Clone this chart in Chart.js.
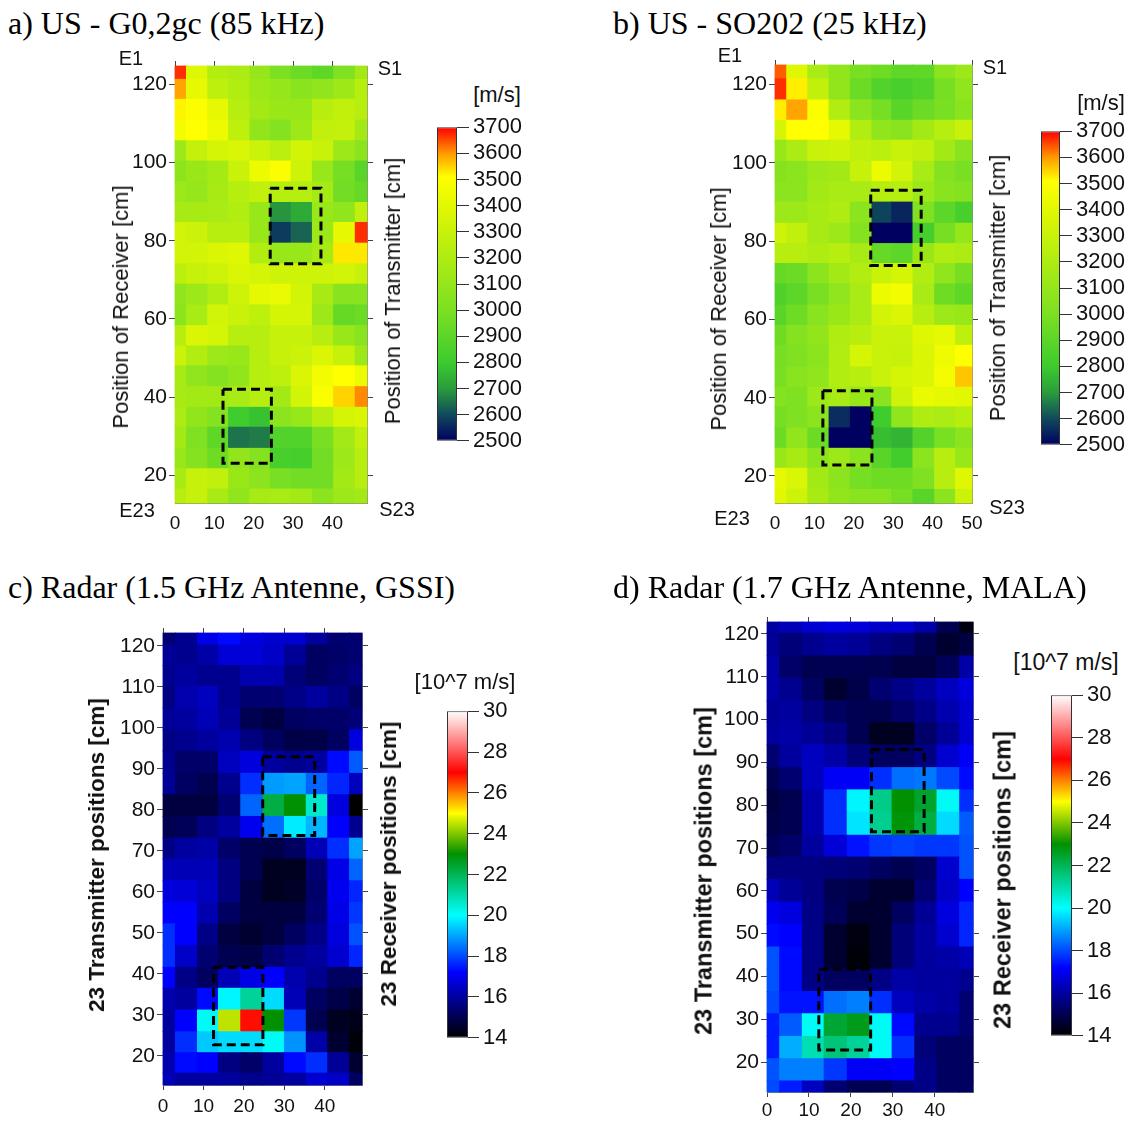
<!DOCTYPE html>
<html>
<head>
<meta charset="utf-8">
<title>US and radar velocity maps</title>
<script src="https://cdn.jsdelivr.net/npm/chart.js@4/dist/chart.umd.js"></script>
<style>
  html, body { margin: 0; padding: 0; background: #fff; }
  #page { position: relative; width: 1125px; height: 1121px; overflow: hidden; }
  #page canvas { position: absolute; }
  .t { position: absolute; white-space: nowrap; color: #111; font-family: "Liberation Sans", Arial, sans-serif; transform: translate(-50%, -50%); }
  .title { font-family: "Liberation Serif", "Times New Roman", serif; font-size: 32px; color: #000; transform: translate(0, -50%); }
</style>
</head>
<body>
<div id="page"></div>
<script>
// cell edges in cm
const xEdgesA = [0, 2.9, 8.3, 13.6, 19, 24.2, 29.5, 34.9, 40.3, 45.8, 48.8];
const yEdgesA = [124.7, 121.3, 116.2, 110.9, 105.6, 100.4, 95.1, 89.8, 84.7, 79.4, 74.1, 68.9, 63.6, 58.3, 53.1, 48, 42.7, 37.4, 32.3, 26.9, 21.7, 16.5, 12.9];
const xEdgesB = [0, 2.95, 8.3, 13.7, 19.1, 24.6, 29.6, 35, 40.5, 45.8, 50];
const yEdgesB = [125, 121.5, 116.1, 110.9, 105.8, 100.4, 95.2, 90, 84.6, 79.4, 74.3, 69.1, 63.7, 58.5, 53.4, 47.9, 42.7, 37.7, 32.3, 27.1, 22, 16.6, 13.1];
const xEdgesC = [0, 3.05, 8.5, 13.7, 19.2, 24.7, 30, 35.4, 40.7, 46.1, 49.2];
const yEdgesC = [123.1, 120.2, 115.2, 110.1, 104.8, 99.5, 94.3, 88.9, 83.7, 78.4, 73.1, 68, 62.7, 57.4, 52.2, 46.9, 41.6, 36.5, 31.2, 25.9, 20.8, 15.8, 12.9];
const xEdgesD = [0, 3, 8.4, 13.6, 19.1, 24.5, 29.8, 35.2, 40.5, 45.9, 49.1];
const yEdgesD = [122.8, 120.2, 114.9, 109.6, 104.4, 99.3, 94.1, 88.8, 83.6, 78.4, 73, 67.9, 62.7, 57.4, 52.2, 46.9, 41.7, 36.5, 31.3, 26, 20.8, 15.6, 13];

// velocity per row (top to bottom), per column
const valuesA = [
  [3670, 3380, 3220, 3190, 3100, 3000, 2950, 2910, 3010, 3150],
  [3590, 3420, 3260, 3210, 3130, 3100, 3050, 3080, 3140, 3230],
  [3520, 3500, 3420, 3240, 3150, 3120, 3110, 3240, 3270, 3240],
  [3470, 3510, 3440, 3260, 3090, 3030, 3130, 3270, 3280, 3150],
  [3130, 3280, 3350, 3360, 3310, 3250, 3340, 3300, 3130, 3060],
  [3070, 3120, 3160, 3300, 3440, 3490, 3320, 3110, 2980, 2890],
  [3130, 3100, 3170, 3230, 3270, 3230, 3230, 3160, 2970, 2930],
  [3170, 3170, 3180, 3210, 3110, 2690, 2730, 3110, 3080, 3270],
  [3340, 3310, 3240, 3240, 3110, 2580, 2630, 3130, 3420, 3670],
  [3340, 3340, 3370, 3390, 3210, 3110, 3110, 3170, 3530, 3530],
  [3250, 3290, 3320, 3370, 3350, 3320, 3320, 3320, 3340, 3290],
  [3080, 3130, 3210, 3320, 3410, 3430, 3340, 3170, 3050, 3050],
  [3060, 3180, 3340, 3300, 3260, 3350, 3350, 3130, 2930, 2950],
  [3240, 3370, 3350, 3240, 3240, 3290, 3290, 3240, 3110, 3050],
  [3310, 3210, 3130, 3110, 3240, 3290, 3310, 3370, 3290, 3130],
  [3170, 3080, 3030, 3090, 3230, 3260, 3370, 3470, 3510, 3440],
  [3170, 3150, 3150, 3180, 3230, 3150, 3340, 3490, 3550, 3610],
  [3190, 3090, 3030, 2810, 2780, 3060, 3110, 3240, 3350, 3370],
  [3150, 3010, 2910, 2650, 2660, 2870, 2870, 2990, 3150, 3270],
  [3110, 3030, 2960, 3090, 3030, 2840, 2830, 2970, 3130, 3240],
  [3170, 3290, 3270, 3120, 3060, 2990, 2970, 2970, 3150, 3240],
  [3240, 3290, 3170, 3080, 3170, 3180, 3150, 3060, 3130, 3150]
];
const valuesB = [
  [3640, 3390, 3180, 3080, 2990, 2960, 2910, 2910, 3060, 3130],
  [3670, 3525, 3270, 3090, 2950, 2870, 2840, 2870, 2980, 3080],
  [3525, 3590, 3490, 3210, 3060, 2980, 2890, 2950, 2990, 3050],
  [3350, 3510, 3510, 3410, 3210, 3080, 3050, 3150, 3230, 3300],
  [3110, 3190, 3300, 3320, 3270, 3250, 3300, 3270, 3150, 3050],
  [3040, 3060, 3130, 3150, 3290, 3440, 3340, 3180, 3030, 2990],
  [3060, 3060, 3150, 3180, 3180, 3230, 3230, 3130, 3050, 3030],
  [3130, 3130, 3170, 3200, 3060, 2590, 2550, 3010, 2900, 2840],
  [3320, 3270, 3170, 3130, 3030, 2500, 2500, 2830, 2980, 3100],
  [3240, 3240, 3200, 3240, 3170, 2930, 2900, 3120, 3210, 3190],
  [2930, 2950, 3060, 3150, 3210, 3300, 3350, 3210, 3080, 2980],
  [2860, 2900, 2990, 3080, 3180, 3440, 3470, 3180, 2960, 2910],
  [2890, 2960, 3050, 3120, 3180, 3340, 3370, 3240, 3130, 3110],
  [2960, 3030, 3090, 3200, 3240, 3300, 3300, 3390, 3410, 3260],
  [2980, 3010, 3060, 3210, 3350, 3300, 3290, 3370, 3450, 3510],
  [2990, 3050, 3080, 3210, 3240, 3300, 3350, 3370, 3470, 3560],
  [3030, 3010, 3130, 3180, 3110, 3050, 3320, 3430, 3410, 3400],
  [2980, 3010, 3060, 2560, 2500, 2810, 3080, 3200, 3190, 3230],
  [2950, 3080, 2950, 2500, 2500, 2770, 2750, 2870, 2990, 3060],
  [3110, 3170, 3060, 3130, 3050, 2890, 2820, 3060, 3240, 3110],
  [3420, 3360, 3150, 3060, 2980, 2960, 2960, 3010, 3240, 3390],
  [3400, 3320, 3170, 3090, 3050, 3050, 2980, 2890, 3060, 3310]
];
const valuesC = [
  [15.4, 15.8, 16.9, 17.3, 16.8, 16.6, 16.6, 16, 15.4, 15.4],
  [15.9, 15.8, 16.1, 16.7, 16.7, 16.5, 15.9, 15.2, 15.3, 15.4],
  [15.8, 16, 15.8, 15.8, 16.2, 16.2, 15.5, 15.2, 15.4, 15.6],
  [15.6, 16.2, 16.4, 15.8, 15.4, 15.4, 15.7, 16, 15.7, 15.2],
  [15.9, 16, 16.3, 15.9, 15, 14.8, 15.2, 15.3, 15.3, 15.5],
  [15.7, 15.8, 16, 16.2, 15.6, 15.2, 14.9, 14.9, 15.2, 16.8],
  [15.8, 15.3, 15.3, 16.4, 16.8, 16, 15.8, 16, 17.3, 18.2],
  [15.9, 15.2, 15, 15.8, 17.7, 18.9, 19, 18.3, 17.6, 16.4],
  [14.8, 14.8, 14.8, 15.4, 18.3, 22.2, 23, 20.6, 16.8, 14],
  [15, 15.1, 15.6, 16, 17, 18.4, 19.8, 19.2, 17.2, 15.8],
  [15.7, 16, 16.1, 15.3, 15, 14.9, 15.2, 16.3, 17.7, 19],
  [16.3, 16.3, 16.3, 15.6, 15, 14.4, 14.4, 15.4, 16.9, 18.3],
  [16.8, 16.7, 16.4, 15.6, 14.8, 14.4, 14.5, 15.3, 17, 17.6],
  [17.2, 17.2, 16.2, 15.2, 14.8, 14.8, 14.8, 15.4, 16.9, 17.8],
  [17.7, 17.2, 15.7, 14.8, 14.6, 14.8, 15.2, 15.7, 16.8, 18.1],
  [17.7, 16.5, 15.4, 15, 14.9, 15.4, 15.8, 16, 16.6, 17.6],
  [17.2, 15.7, 15.2, 16.3, 16.9, 17.2, 16.2, 15.8, 15.2, 15.2],
  [16.2, 16, 17.3, 19.9, 21.2, 19.6, 16.3, 15.2, 14.9, 14.6],
  [16, 17.2, 20.1, 24.5, 26.9, 23, 17.8, 15, 14.4, 14.3],
  [16, 17.7, 19.4, 19.6, 19.6, 20.1, 18.8, 16.1, 14.6, 14.1],
  [16.2, 17.3, 17.2, 15.6, 15.3, 16, 17.3, 17.7, 15.9, 14.6],
  [16.3, 16, 16, 16, 15.8, 15.9, 16, 16.6, 16.5, 15.2]
];
const valuesD = [
  [16, 16.3, 16.6, 16.8, 16.7, 16.5, 16.6, 16.1, 15, 14.2],
  [15.9, 15.5, 15.8, 16, 15.9, 15.6, 15.4, 15, 14.6, 14.8],
  [16.1, 15.3, 15, 15, 15, 15, 14.8, 14.8, 15.1, 16.1],
  [16.1, 15.8, 15.2, 14.6, 14.9, 15.4, 15.7, 16, 16.4, 16.8],
  [15.9, 16, 15.6, 15.2, 15, 15, 15.3, 15.7, 16.2, 16.6],
  [16, 16.1, 15.9, 15.6, 15, 14.4, 14.4, 15.3, 15.9, 16.6],
  [15.4, 16, 16.4, 16.1, 15.5, 15.2, 15.2, 15.6, 16.6, 17.1],
  [15, 15.4, 16.4, 17.1, 17.1, 17.7, 18.4, 18.5, 18, 17.3],
  [14.8, 15, 16.2, 17.7, 19.9, 21.4, 23, 22.5, 20.1, 17.7],
  [14.9, 15, 16.2, 17.7, 19.7, 21.3, 22.9, 22.2, 19.6, 18.2],
  [15.1, 15.3, 16, 16.7, 17.4, 17.8, 17.9, 17.8, 17.8, 18.1],
  [15.6, 15.6, 15.6, 15.5, 15.4, 15.2, 15, 15.2, 16.6, 18.1],
  [16.3, 15.9, 15.6, 15, 14.9, 14.6, 14.6, 15.4, 16.5, 17.2],
  [17, 16.8, 15.7, 15.1, 14.6, 14.6, 15.2, 15.9, 16.8, 17.6],
  [17.3, 17.2, 15.7, 14.6, 14.2, 14.6, 15.5, 16, 16.6, 17.6],
  [18.1, 17.3, 15.7, 14.6, 14.1, 14.6, 15.5, 16, 16.1, 16.3],
  [18.1, 17.3, 15.7, 15.2, 15.2, 15.7, 16.1, 16, 16, 15.8],
  [18, 17.4, 17.4, 18.4, 18.6, 17.7, 16.4, 16.1, 16, 15.4],
  [17.5, 18.2, 20.1, 22.4, 22.7, 20.1, 17.3, 15.8, 15.8, 15.4],
  [17.5, 19.1, 20.9, 21.6, 21.2, 20.1, 17.7, 15.5, 15.2, 15.2],
  [18.1, 18.6, 18.6, 17.8, 17.1, 17.1, 17.2, 15.7, 15.2, 15.2],
  [18, 17.5, 16.4, 15.4, 15, 15, 15.4, 15.7, 15.2, 15.2]
];

// dashed boxes around the inclusions: x0, x1, y0, y1 in cm
const boxesA = [[24.2, 37.1, 74.1, 93.4], [12.2, 24.5, 23.1, 42]];
const boxesB = [[24.3, 37.1, 73.8, 93], [12.15, 24.6, 22.8, 41.8]];
const boxesC = [[24.65, 37.5, 73.7, 92.9], [12.5, 24.7, 22.7, 41.6]];
const boxesD = [[24.9, 37.45, 73.8, 93], [12.35, 24.7, 22.8, 41.65]];

// colour bars
const usStops = [2500, 2600, 2700, 2800, 3000, 3200, 3400, 3510, 3600, 3700];
const usColors = ['#000060', '#104a5c', '#2a9c3c', '#3ccb2e', '#7ce022', '#aeec12', '#e2f802', '#ffff00', '#ff9900', '#ff0000'];
const radarStops = [14, 17.2, 18.6, 20, 21.5, 23, 25, 26, 27, 30];
const radarColors = ['#000000', '#0000ff', '#0080ff', '#00ffff', '#00c880', '#009000', '#ffff00', '#ff8000', '#ff0000', '#ffffff'];

const sansFont = 'Liberation Sans';

function hexToRgb(hex) {
    return [1, 3, 5].map(i => parseInt(hex.substr(i, 2), 16));
}

function colorAt(v, stops, colors) {
    if (v <= stops[0]) return colors[0];
    for (let i = 1; i < stops.length; i++) {
        if (v <= stops[i]) {
            const f = (v - stops[i - 1]) / (stops[i] - stops[i - 1]);
            const a = hexToRgb(colors[i - 1]);
            const b = hexToRgb(colors[i]);
            return 'rgb(' + a.map((c, k) => Math.round(c + (b[k] - c) * f)).join(',') + ')';
        }
    }
    return colors[colors.length - 1];
}

// rectangles with free edges in both directions, drawn with the bar element
class CellController extends Chart.DatasetController {
    update(mode) {
        const meta = this._cachedMeta;
        this.updateElements(meta.data, 0, meta.data.length, mode);
    }
    updateElements(cells, start, count, mode) {
        const xScale = this._cachedMeta.xScale;
        const yScale = this._cachedMeta.yScale;
        const dataset = this.getDataset();
        for (let i = start; i < start + count; i++) {
            const d = dataset.data[i];
            const left = xScale.getPixelForValue(d.x0);
            const right = xScale.getPixelForValue(d.x1);
            this.updateElement(cells[i], i, {
                x: (left + right) / 2,
                y: yScale.getPixelForValue(d.y0),
                base: yScale.getPixelForValue(d.y1),
                width: right - left,
                horizontal: false,
                borderSkipped: {},
                enableBorderRadius: false,
                inflateAmount: dataset.inflateAmount,
                options: this.resolveDataElementOptions(i, mode)
            }, mode);
        }
    }
}
CellController.id = 'cell';
CellController.defaults = { dataElementType: 'bar' };
Chart.register(CellController);

function makeCanvas(left, top, width, height) {
    const canvas = document.createElement('canvas');
    canvas.style.left = left + 'px';
    canvas.style.top = top + 'px';
    canvas.style.width = width + 'px';
    canvas.style.height = height + 'px';
    canvas.width = width;
    canvas.height = height;
    document.getElementById('page').appendChild(canvas);
    return canvas;
}

function fixedWidth(w) {
    return scale => { scale.width = w; };
}
function fixedHeight(h) {
    return scale => { scale.height = h; };
}

// one heat map; box is the plot rectangle on the page
function drawMap(box, xEdges, yEdges, values, boxes, stops, colors, o) {
    const L = 70, R = 20, T = 20, B = 36;
    const cells = [];
    values.forEach((row, r) => row.forEach((v, c) => {
        cells.push({
            x: xEdges[c], y: yEdges[r],
            x0: xEdges[c], x1: xEdges[c + 1],
            y0: yEdges[r], y1: yEdges[r + 1],
            v: v
        });
    }));
    const datasets = [{
        type: 'cell',
        order: 2,
        data: cells,
        inflateAmount: 0.4,
        borderWidth: 0,
        backgroundColor: ctx => colorAt(ctx.raw.v, stops, colors)
    }];
    boxes.forEach(b => {
        datasets.push({
            type: 'scatter',
            order: 1,
            showLine: true,
            pointRadius: 0,
            borderColor: '#000',
            borderWidth: 3,
            borderDash: [9, 5],
            data: [
                { x: b[0], y: b[3] }, { x: b[1], y: b[3] }, { x: b[1], y: b[2] },
                { x: b[0], y: b[2] }, { x: b[0], y: b[3] }
            ]
        });
    });
    const xMin = xEdges[0], xMax = xEdges[xEdges.length - 1];
    const yMax = yEdges[0], yMin = yEdges[yEdges.length - 1];
    const lineColor = '#444';
    const frameColor = '#888';
    const canvas = makeCanvas(box.left - L, box.top - T, box.width + L + R, box.height + T + B);
    new Chart(canvas, {
        type: 'scatter',
        data: { datasets: datasets },
        options: {
            responsive: false,
            animation: false,
            events: [],
            plugins: { legend: { display: false }, tooltip: { enabled: false } },
            scales: {
                x: {
                    type: 'linear', position: 'bottom', min: xMin, max: xMax,
                    afterFit: fixedHeight(B),
                    border: { color: frameColor },
                    grid: { drawOnChartArea: false, drawTicks: o.bottomTicks, tickLength: 5, color: lineColor },
                    ticks: {
                        stepSize: 10, includeBounds: false, maxRotation: 0, color: '#111', padding: o.xPad,
                        font: { family: sansFont, size: 19 }
                    }
                },
                xTop: {
                    type: 'linear', axis: 'x', position: 'top', min: xMin, max: xMax,
                    afterFit: fixedHeight(T),
                    border: { color: frameColor },
                    grid: { drawOnChartArea: false, tickLength: 5, color: lineColor },
                    ticks: { stepSize: 10, includeBounds: false, display: false }
                },
                y: {
                    type: 'linear', position: 'left', min: yMin, max: yMax,
                    afterFit: fixedWidth(L),
                    border: { color: frameColor },
                    grid: { drawOnChartArea: false, tickLength: 6, color: lineColor },
                    ticks: {
                        stepSize: o.yStep, includeBounds: false, color: '#111', padding: 2,
                        font: { family: sansFont, size: 21 }
                    }
                },
                yRight: {
                    type: 'linear', axis: 'y', position: 'right', min: yMin, max: yMax,
                    afterFit: fixedWidth(R),
                    border: { color: frameColor },
                    grid: { drawOnChartArea: false, tickLength: 6, color: lineColor },
                    ticks: { stepSize: o.yStep, includeBounds: false, display: false }
                }
            }
        }
    });
}

function drawBar(box, stops, colors, step, tickLen) {
    const R = 90, pad = 16;
    const min = stops[0], max = stops[stops.length - 1];
    const canvas = makeCanvas(box.left, box.top - pad, box.width + R, box.height + pad * 2);
    new Chart(canvas, {
        type: 'scatter',
        data: {
            datasets: [{
                type: 'cell',
                data: [{ x: 0, y: max, x0: 0, x1: 1, y0: max, y1: min }],
                inflateAmount: 0,
                borderWidth: 1,
                borderColor: '#333',
                backgroundColor: ctx => {
                    const s = ctx.chart.scales.y;
                    const y0 = s.getPixelForValue(min);
                    const y1 = s.getPixelForValue(max);
                    // the scale has no size yet on the first pass
                    if (!isFinite(y0) || !isFinite(y1)) return colors[0];
                    const g = ctx.chart.ctx.createLinearGradient(0, y0, 0, y1);
                    stops.forEach((v, i) => g.addColorStop((v - min) / (max - min), colors[i]));
                    return g;
                }
            }]
        },
        options: {
            responsive: false,
            animation: false,
            events: [],
            layout: { padding: { top: pad, bottom: pad } },
            plugins: { legend: { display: false }, tooltip: { enabled: false } },
            scales: {
                x: { type: 'linear', display: false, min: 0, max: 1 },
                y: {
                    type: 'linear', position: 'right', min: min, max: max,
                    afterFit: fixedWidth(R),
                    border: { display: false },
                    grid: { drawOnChartArea: false, tickLength: tickLen, color: '#333' },
                    ticks: {
                        stepSize: step, autoSkip: false, color: '#111', padding: 4,
                        callback: v => String(v),
                        font: { family: sansFont, size: 22 }
                    }
                }
            }
        }
    });
}

function addText(text, x, y, size, opts) {
    const el = document.createElement('div');
    el.className = 't' + (opts && opts.title ? ' title' : '');
    el.textContent = text;
    el.style.left = x + 'px';
    el.style.top = y + 'px';
    if (size) el.style.fontSize = size + 'px';
    if (opts && opts.rotate) el.style.transform = 'translate(-50%, -50%) rotate(-90deg)';
    if (opts && opts.bold) el.style.fontWeight = 'bold';
    document.getElementById('page').appendChild(el);
}

// maps
drawMap({ left: 175, top: 66, width: 192, height: 437 }, xEdgesA, yEdgesA, valuesA, boxesA, usStops, usColors, { yStep: 20, bottomTicks: false, xPad: 9 });
drawMap({ left: 775, top: 65, width: 197, height: 438 }, xEdgesB, yEdgesB, valuesB, boxesB, usStops, usColors, { yStep: 20, bottomTicks: false, xPad: 9 });
drawMap({ left: 163, top: 633, width: 199, height: 452 }, xEdgesC, yEdgesC, valuesC, boxesC, radarStops, radarColors, { yStep: 10, bottomTicks: true, xPad: 5 });
drawMap({ left: 767, top: 622, width: 206, height: 470 }, xEdgesD, yEdgesD, valuesD, boxesD, radarStops, radarColors, { yStep: 10, bottomTicks: true, xPad: 2 });

// colour bars
drawBar({ left: 437, top: 126, width: 20, height: 316 }, usStops, usColors, 100, 12);
drawBar({ left: 1041, top: 130, width: 19, height: 316 }, usStops, usColors, 100, 12);
drawBar({ left: 447, top: 710, width: 21, height: 329 }, radarStops, radarColors, 2, 11);
drawBar({ left: 1051, top: 694, width: 21, height: 343 }, radarStops, radarColors, 2, 11);

// titles
addText('a) US - G0,2gc (85 kHz)', 8, 23, 0, { title: true });
addText('b) US - SO202 (25 kHz)', 613, 23, 0, { title: true });
addText('c) Radar (1.5 GHz Antenne, GSSI)', 8, 587, 0, { title: true });
addText('d) Radar (1.7 GHz Antenne, MALA)', 613, 587, 0, { title: true });

// panel a
addText('E1', 131, 58, 20);
addText('S1', 390, 68, 20);
addText('E23', 137, 510, 20);
addText('S23', 397, 509, 20);
addText('Position of Receiver [cm]', 121, 307, 22, { rotate: true });
addText('Position of Transmitter [cm]', 393, 291, 22, { rotate: true });
addText('[m/s]', 497, 95, 22);

// panel b
addText('E1', 730, 55, 20);
addText('S1', 995, 67, 20);
addText('E23', 732, 518, 20);
addText('S23', 1007, 507, 20);
addText('Position of Receiver [cm]', 719, 309, 22, { rotate: true });
addText('Position of Transmitter [cm]', 998, 288, 22, { rotate: true });
addText('[m/s]', 1101, 103, 22);

// panel c
addText('23 Transmitter positions [cm]', 97, 855, 22.5, { rotate: true, bold: true });
addText('23 Receiver positions [cm]', 389, 864, 22.5, { rotate: true, bold: true });
addText('[10^7 m/s]', 465, 682, 22);

// panel d
addText('23 Transmitter positions [cm]', 704, 871, 23.5, { rotate: true, bold: true });
addText('23 Receiver positions [cm]', 1003, 880, 23.5, { rotate: true, bold: true });
addText('[10^7 m/s]', 1066, 662, 23);
</script>
</body>
</html>
